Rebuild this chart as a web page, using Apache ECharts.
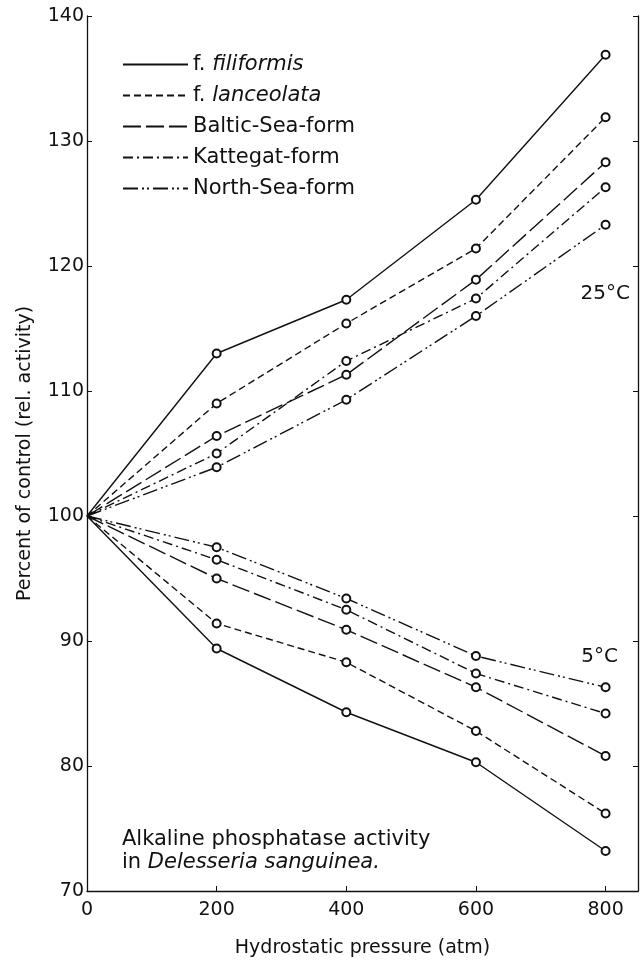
<!DOCTYPE html>
<html>
<head>
<meta charset="utf-8">
<script src="https://cdn.jsdelivr.net/npm/echarts@6/dist/echarts.min.js"></script>
<style>
  html, body { margin: 0; padding: 0; background: #fff; }
  #chart { width: 641px; height: 963px; }
</style>
</head>
<body>
<div id="chart"></div>
<script>
// pressure steps (atm)
const pressures = [0, 200, 400, 600, 800];

// 25°C, percent of control
const filiformis25 = [100, 113, 117.3, 125.3, 136.9];
const lanceolata25 = [100, 109, 115.4, 121.4, 131.9];
const baltic25 = [100, 106.4, 111.3, 118.9, 128.3];
const kattegat25 = [100, 105, 112.4, 117.4, 126.3];
const north25 = [100, 103.9, 109.3, 116, 123.3];

// 5°C, percent of control
const filiformis5 = [100, 89.4, 84.3, 80.3, 73.2];
const lanceolata5 = [100, 91.4, 88.3, 82.8, 76.2];
const baltic5 = [100, 95, 90.9, 86.3, 80.8];
const kattegat5 = [100, 96.5, 92.5, 87.4, 84.2];
const north5 = [100, 97.5, 93.4, 88.8, 86.3];

const yTicks = [70, 80, 90, 100, 110, 120, 130, 140];
const xTicks = [0, 200, 400, 600, 800];

const forms = ['f. filiformis', 'f. lanceolata', 'Baltic-Sea-form', 'Kattegat-form', 'North-Sea-form'];
const dashes = ['solid', [7, 4], [18, 5], [10, 4, 2, 4], [15, 4, 2, 3, 2, 4]];

const FONT = 'DejaVu Sans';
const INK = '#111';

// control point (0 atm) is drawn without a circle
function pairs(vals) {
    return vals.map((v, i) => (i === 0
        ? { value: [pressures[i], v], symbol: 'none' }
        : [pressures[i], v]));
}

function mkSeries(name, vals, dash) {
    return {
        name: name,
        type: 'line',
        data: pairs(vals),
        symbol: 'emptyCircle',
        symbolSize: 8,
        showSymbol: true,
        color: INK,
        itemStyle: { color: INK, borderWidth: 1.3 },
        lineStyle: { color: INK, width: 1.4, type: dash },
        emphasis: { disabled: true },
        z: 3
    };
}

const series = [];
const sets25 = [filiformis25, lanceolata25, baltic25, kattegat25, north25];
const sets5 = [filiformis5, lanceolata5, baltic5, kattegat5, north5];
forms.forEach((f, i) => {
    series.push(mkSeries(f, sets25[i], dashes[i]));
    series.push(mkSeries(f, sets5[i], dashes[i]));
});

const myChart = echarts.init(document.getElementById('chart'));

const option = {
    backgroundColor: '#fff',
    animation: false,
    textStyle: { fontFamily: FONT, color: INK },
    grid: { left: 87, right: 3, top: 16, bottom: 72, containLabel: false },
    legend: {
        orient: 'vertical',
        left: 122,
        top: 54,
        padding: 0,
        itemWidth: 65,
        itemHeight: 14,
        itemGap: 10,
        data: forms,
        itemStyle: { opacity: 0 },
        textStyle: {
            fontFamily: FONT, fontSize: 21, color: INK, lineHeight: 21,
            rich: {
                n: { fontFamily: FONT, fontSize: 21, color: INK, lineHeight: 21 },
                i: { fontFamily: FONT, fontSize: 21, color: INK, fontStyle: 'italic', lineHeight: 21 }
            }
        },
        formatter: function (name) {
            if (name.indexOf('f. ') === 0) {
                return '{n|f. }{i|' + name.slice(3) + '}';
            }
            return name;
        },
        selectedMode: false
    },
    xAxis: [{
        type: 'value',
        min: 0,
        max: 850,
        interval: 200,
        name: 'Hydrostatic pressure (atm)',
        nameLocation: 'middle',
        nameGap: 48,
        nameTextStyle: { fontFamily: FONT, fontSize: 19, color: INK },
        axisLine: { show: true, lineStyle: { color: INK, width: 1.3 } },
        axisTick: { show: true, inside: true, length: 5, lineStyle: { color: INK } },
        axisLabel: {
            fontFamily: FONT, fontSize: 19, color: INK, margin: 10,
            showMaxLabel: false,
            formatter: v => (xTicks.indexOf(v) >= 0 ? String(v) : '')
        },
        splitLine: { show: false }
    }],
    yAxis: [{
        type: 'value',
        min: 70,
        max: 140,
        interval: 10,
        name: 'Percent of control (rel. activity)',
        nameLocation: 'middle',
        nameGap: 52,
        nameTextStyle: { fontFamily: FONT, fontSize: 19, color: INK },
        axisLine: { show: true, lineStyle: { color: INK, width: 1.3 } },
        axisTick: { show: true, inside: true, length: 5, lineStyle: { color: INK } },
        axisLabel: {
            fontFamily: FONT, fontSize: 19, color: INK, margin: 3,
            formatter: v => (yTicks.indexOf(v) >= 0 ? String(v) : '')
        },
        splitLine: { show: false }
    }, {
        type: 'value',
        position: 'right',
        min: 70,
        max: 140,
        interval: 10,
        axisLine: { show: true, lineStyle: { color: INK, width: 1.3 } },
        axisTick: { show: true, inside: true, length: 5, lineStyle: { color: INK } },
        axisLabel: { show: false },
        splitLine: { show: false }
    }],
    graphic: [
        { type: 'text', right: 11, top: 284, style: { text: '25°C', font: '20px "DejaVu Sans"', fill: INK } },
        { type: 'text', right: 23, top: 647, style: { text: '5°C', font: '20px "DejaVu Sans"', fill: INK } },
        {
            type: 'text', left: 122, top: 828,
            style: {
                text: 'Alkaline phosphatase activity\n{n|in }{i|Delesseria sanguinea.}',
                font: '21px "DejaVu Sans"', fill: INK, lineHeight: 23,
                rich: {
                    n: { fontFamily: FONT, fontSize: 21, fill: INK, lineHeight: 23 },
                    i: { fontFamily: FONT, fontSize: 21, fill: INK, fontStyle: 'italic', lineHeight: 23 }
                }
            }
        }
    ],
    series: series
};

myChart.setOption(option);
</script>
</body>
</html>
